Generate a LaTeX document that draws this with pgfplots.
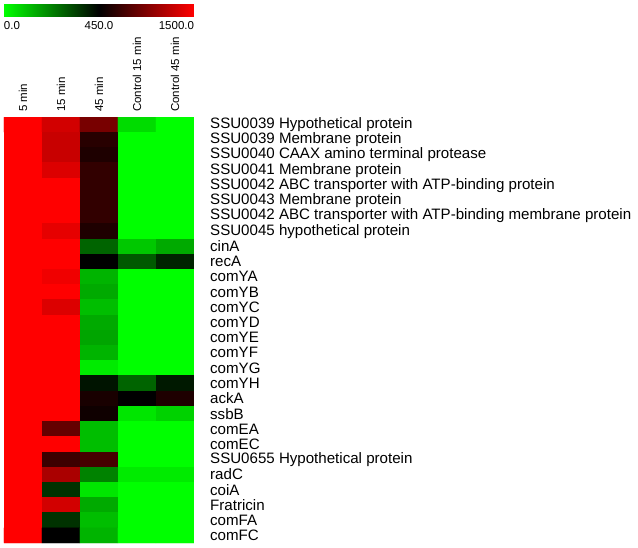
\documentclass[border=0pt]{standalone}
\usepackage{fontspec}
\setmainfont{Liberation Sans}
\usepackage{pgfplots}
\pgfplotsset{compat=1.18}
\begin{document}
\begin{tikzpicture}[x=1pt,y=1pt]
\useasboundingbox (-4,-4) rectangle (634,543);
\begin{axis}[
  at={(0,0)}, anchor=south west,
  scale only axis, width=190pt, height=426pt,
  xmin=-0.5, xmax=4.5, ymin=-0.5, ymax=27.5,
  y dir=reverse,
  axis line style={draw=none},
  major tick length=0pt,
  colormap={gbr}{rgb255=(0,255,0) rgb255=(0,0,0) rgb255=(255,0,0)},
  point meta min=0, point meta max=1,
  xtick={0,1,2,3,4},
  xticklabels={5 min,15 min,45 min,Control 15 min,Control 45 min},
  xticklabel pos=upper,
  xticklabel style={rotate=90, anchor=west, inner sep=0pt, font=\fontsize{11.5}{13}\selectfont},
  xticklabel shift=5pt,
  ytick={0,...,27},
  yticklabels={SSU0039 Hypothetical protein,SSU0039 Membrane protein,SSU0040 CAAX amino terminal protease,SSU0041 Membrane protein,SSU0042 ABC transporter with ATP-binding protein,SSU0043 Membrane protein,SSU0042 ABC transporter with ATP-binding membrane protein,SSU0045 hypothetical protein,cinA,recA,comYA,comYB,comYC,comYD,comYE,comYF,comYG,comYH,ackA,ssbB,comEA,comEC,SSU0655 Hypothetical protein,radC,coiA,Fratricin,comFA,comFC},
  yticklabel pos=right,
  yticklabel style={anchor=west, inner sep=0pt, font=\fontsize{15.1}{17}\selectfont},
  yticklabel shift=16pt,
  colorbar horizontal,
  colorbar style={
    at={(parent axis.north west)}, anchor=south west, yshift=109pt,
    scale only axis, width=190pt, height=12pt,
    axis line style={draw=none}, major tick length=0pt,
    xtick={0,0.5,1},
    xticklabels={\makebox[0pt][l]{0.0},450.0,\makebox[0pt][r]{1500.0}},
    xticklabel pos=lower,
    xticklabel style={anchor=north, inner sep=0pt, font=\fontsize{11.5}{13}\selectfont},
    xticklabel shift=5pt,
  },
]
\addplot[matrix plot*, mesh/cols=5, mesh/rows=28, point meta=explicit]
table[x=x, y=y, meta expr={(\thisrow{v}<=450) ? (\thisrow{v}/900) : (0.5+(\thisrow{v}-450)/2100)}] {
x y v
0 0 1500
1 0 1315
2 0 944
3 0 62
4 0 0
0 1 1500
1 1 1274
2 1 615
3 1 0
4 1 0
0 2 1500
1 2 1274
2 2 574
3 2 0
4 2 0
0 3 1500
1 3 1356
2 3 656
3 3 0
4 3 0
0 4 1500
1 4 1500
2 4 656
3 4 0
4 4 0
0 5 1500
1 5 1500
2 5 656
3 5 0
4 5 0
0 6 1500
1 6 1500
2 6 656
3 6 0
4 6 0
0 7 1500
1 7 1397
2 7 574
3 7 0
4 7 0
0 8 1500
1 8 1500
2 8 274
3 8 97
4 8 150
0 9 1500
1 9 1500
2 9 450
3 9 291
4 9 388
0 10 1500
1 10 1438
2 10 132
3 10 0
4 10 0
0 11 1500
1 11 1500
2 11 150
3 11 0
4 11 0
0 12 1500
1 12 1356
2 12 115
3 12 0
4 12 0
0 13 1500
1 13 1500
2 13 150
3 13 0
4 13 0
0 14 1500
1 14 1500
2 14 159
3 14 0
4 14 0
0 15 1500
1 15 1500
2 15 132
3 15 0
4 15 0
0 16 1500
1 16 1500
2 16 35
3 16 0
4 16 0
0 17 1500
1 17 1500
2 17 415
3 17 274
4 17 406
0 18 1500
1 18 1500
2 18 553
3 18 450
4 18 574
0 19 1500
1 19 1500
2 19 512
3 19 44
4 19 79
0 20 1500
1 20 862
2 20 115
3 20 0
4 20 0
0 21 1500
1 21 1500
2 21 115
3 21 0
4 21 0
0 22 1500
1 22 697
2 22 738
3 22 0
4 22 0
0 23 1500
1 23 1150
2 23 221
3 23 35
4 23 35
0 24 1500
1 24 362
2 24 44
3 24 0
4 24 0
0 25 1500
1 25 1315
2 25 150
3 25 0
4 25 0
0 26 1500
1 26 362
2 26 115
3 26 0
4 26 0
0 27 1500
1 27 450
2 27 132
3 27 0
4 27 0
};
\end{axis}
\end{tikzpicture}
\end{document}
